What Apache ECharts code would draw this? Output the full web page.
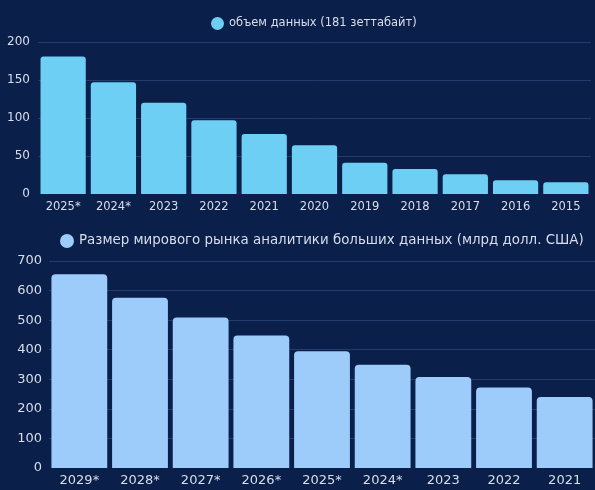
<!DOCTYPE html>
<html>
<head>
<meta charset="utf-8">
<script src="https://cdn.jsdelivr.net/npm/echarts@6/dist/echarts.min.js"></script>
<style>
  html, body { margin: 0; padding: 0; background: #0a1f4a; }
  #chart { width: 595px; height: 490px; }
</style>
</head>
<body>
<div id="chart"></div>
<script>
// Global data volume, zettabytes (top panel)
const volumeYears = ['2025*', '2024*', '2023', '2022', '2021', '2020', '2019', '2018', '2017', '2016', '2015'];
const volumeValues = [181, 147, 120, 97, 79, 64, 41, 33, 26, 18, 15.5];
const volumeName = 'объем данных (181 зеттабайт)';

// Big data analytics market size, bn USD (bottom panel)
const marketYears = ['2029*', '2028*', '2027*', '2026*', '2025*', '2024*', '2023', '2022', '2021'];
const marketValues = [655, 576, 509, 448, 395, 349, 308, 272, 240];
const marketName = 'Размер мирового рынка аналитики больших данных (млрд долл. США)';

const FONT = 'DejaVu Sans';
const textColor = '#d9deea';
const gridColor = '#243c6b';

const chart = echarts.init(document.getElementById('chart'));
chart.setOption({
  backgroundColor: '#0a1f4a',
  animation: false,
  textStyle: { fontFamily: FONT },
  legend: [
    {
      data: [volumeName],
      left: 206, top: 12,
      icon: 'circle', itemWidth: 13, itemHeight: 13, itemGap: 6,
      textStyle: { color: textColor, fontSize: 11.5, fontFamily: FONT }
    },
    {
      data: [marketName],
      left: 55, top: 229,
      icon: 'circle', itemWidth: 14, itemHeight: 14, itemGap: 6,
      textStyle: { color: textColor, fontSize: 13.4, fontFamily: FONT }
    }
  ],
  grid: [
    { left: 38, right: 4, top: 42, bottom: 296 },
    { left: 49, right: -7, top: 261, bottom: 22 }
  ],
  xAxis: [
    {
      type: 'category', gridIndex: 0, data: volumeYears,
      axisTick: { show: false },
      axisLine: { lineStyle: { color: '#0a1f4a' } },
      axisLabel: { color: textColor, fontSize: 11.5, margin: 7 }
    },
    {
      type: 'category', gridIndex: 1, data: marketYears,
      axisTick: { show: false },
      axisLine: { lineStyle: { color: '#0a1f4a' } },
      axisLabel: { color: textColor, fontSize: 13, margin: 6 }
    }
  ],
  yAxis: [
    {
      type: 'value', gridIndex: 0, min: 0, max: 200, interval: 50,
      axisLabel: { color: textColor, fontSize: 12, margin: 8 },
      splitLine: { lineStyle: { color: gridColor, width: 1 } }
    },
    {
      type: 'value', gridIndex: 1, min: 0, max: 700, interval: 100,
      axisLabel: { color: textColor, fontSize: 13, margin: 7 },
      splitLine: { lineStyle: { color: gridColor, width: 1 } }
    }
  ],
  series: [
    {
      name: volumeName, type: 'bar', xAxisIndex: 0, yAxisIndex: 0,
      data: volumeValues, barCategoryGap: '10%',
      itemStyle: { color: '#6dcff3', borderRadius: [3, 3, 0, 0] }
    },
    {
      name: marketName, type: 'bar', xAxisIndex: 1, yAxisIndex: 1,
      data: marketValues, barCategoryGap: '8%',
      itemStyle: { color: '#9dccfb', borderRadius: [4, 4, 0, 0] }
    }
  ]
});
</script>
</body>
</html>
